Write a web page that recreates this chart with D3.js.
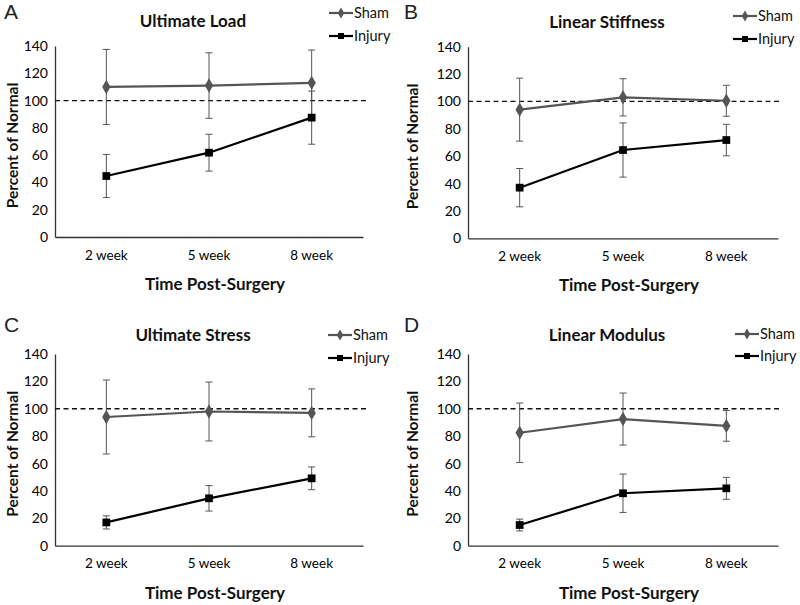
<!DOCTYPE html>
<html><head><meta charset="utf-8">
<script src="https://cdn.jsdelivr.net/npm/d3@7"></script>
<style>
html,body{margin:0;padding:0;background:#fff;}
svg{display:block;font-family:Lato,"Open Sans",sans-serif;}
</style></head>
<body><svg id="chart" width="800" height="605"></svg>
<script>
const categories = ["2 week", "5 week", "8 week"];
const yTicks = [0, 20, 40, 60, 80, 100, 120, 140];
const referenceLevel = 100;
const panelLetters = ["A", "B", "C", "D"];
const panelTitles = ["Ultimate Load", "Linear Stiffness", "Ultimate Stress", "Linear Modulus"];
const seriesNames = ["Sham", "Injury"];
const shamMean = [[110, 111, 113], [94, 103, 100.5], [94, 98, 97], [82.5, 92.5, 87.5]];
const shamErr  = [[27.5, 24, 24], [23, 13.6, 11.3], [27, 21.5, 17.5], [21.7, 19, 11.2]];
const injuryMean = [[44.7, 61.8, 87.5], [37, 64.5, 71.8], [17, 34.6, 49.2], [15.1, 38.3, 41.9]];
const injuryErr  = [[15.8, 13.5, 19.5], [14, 19.8, 11.5], [4.8, 9.3, 8.3], [4.3, 14, 8]];

const svg = d3.select("#chart");
const layout = [
  {x0: 55, x1: 363, yTop: 46, yBot: 237, ox: 0, titleY: 27, letterY: 19, legX: 329, legY: [13, 36]},
  {x0: 468, x1: 778, yTop: 46.7, yBot: 238.3, ox: 400, titleY: 28, letterY: 19, legX: 733, legY: [16, 39]},
  {x0: 55, x1: 363, yTop: 354, yBot: 545.7, ox: 0, titleY: 341, letterY: 332, legX: 328, legY: [335, 358]},
  {x0: 468, x1: 778, yTop: 354, yBot: 545.7, ox: 400, titleY: 341, letterY: 332, legX: 735, legY: [334, 356]}
];
const shamColor = "#555";
const injColor = "#000";
const errColor = "#555";

layout.forEach((L, i) => {
  const g = svg.append("g");
  const x = d3.scaleBand().domain(categories).range([L.x0, L.x1]);
  const y = d3.scaleLinear().domain([0, 140]).range([L.yBot, L.yTop]);
  const cx = c => x(c) + x.bandwidth() / 2;

  const ya = g.append("g").attr("transform", `translate(${L.x0},0)`)
    .call(d3.axisLeft(y).tickValues(yTicks).tickSize(0).tickPadding(7));
  ya.select(".domain").attr("stroke", "#333").attr("stroke-width", 1.3);
  ya.selectAll("text").attr("font-size", 14).attr("fill", "#000").attr("font-family", "Lato");
  const xa = g.append("g").attr("transform", `translate(0,${L.yBot})`)
    .call(d3.axisBottom(x).tickSize(0).tickPadding(13));
  xa.select(".domain").attr("stroke", "#333").attr("stroke-width", 1.3);
  xa.selectAll("text").attr("font-size", 13.5).attr("fill", "#000").attr("font-family", "Lato");

  g.append("line").attr("x1", L.x0).attr("x2", L.x1 + 3)
    .attr("y1", y(referenceLevel)).attr("y2", y(referenceLevel))
    .attr("stroke", "#111").attr("stroke-width", 1.3).attr("stroke-dasharray", "5,3.5");

  const series = [
    {name: seriesNames[0], mean: shamMean[i], err: shamErr[i], color: shamColor, shape: d3.symbolDiamond, size: 60},
    {name: seriesNames[1], mean: injuryMean[i], err: injuryErr[i], color: injColor, shape: d3.symbolSquare, size: 60}
  ];
  series.forEach(s => {
    categories.forEach((c, k) => {
      const xx = cx(c), hi = y(s.mean[k] + s.err[k]), lo = y(s.mean[k] - s.err[k]);
      g.append("line").attr("x1", xx).attr("x2", xx).attr("y1", hi).attr("y2", lo)
        .attr("stroke", errColor).attr("stroke-width", 1);
      [hi, lo].forEach(yy => g.append("line").attr("x1", xx - 3.5).attr("x2", xx + 3.5)
        .attr("y1", yy).attr("y2", yy).attr("stroke", errColor).attr("stroke-width", 1));
    });
  });
  series.forEach(s => {
    const line = d3.line().x((d, k) => cx(categories[k])).y(d => y(d));
    g.append("path").datum(s.mean).attr("d", line).attr("fill", "none")
      .attr("stroke", s.color).attr("stroke-width", 2.2);
    g.selectAll(null).data(s.mean).enter().append("path")
      .attr("d", d3.symbol().type(s.shape).size(s.size))
      .attr("transform", (d, k) => `translate(${cx(categories[k])},${y(d)})`)
      .attr("fill", s.color);
  });

  g.append("text").attr("x", (L.x0 + L.x1) / 2 - 16).attr("y", L.titleY)
    .attr("text-anchor", "middle").attr("font-weight", "bold").attr("font-size", 17)
    .attr("fill", "#111").text(panelTitles[i]);
  g.append("text").attr("x", L.ox + 4).attr("y", L.letterY)
    .attr("font-family", "Liberation Sans, Arial, sans-serif").attr("font-size", 21)
    .attr("fill", "#222").text(panelLetters[i]);
  g.append("text").attr("transform", `translate(${L.ox + 17.5},${(L.yTop + L.yBot) / 2 + 4}) rotate(-90)`)
    .attr("text-anchor", "middle").attr("font-weight", "bold").attr("font-size", 15.5)
    .attr("fill", "#111").text("Percent of Normal");
  g.append("text").attr("x", (L.x0 + L.x1) / 2 + 6).attr("y", L.yBot + 53)
    .attr("text-anchor", "middle").attr("font-weight", "bold").attr("font-size", 17)
    .attr("fill", "#111").text("Time Post-Surgery");

  series.forEach((s, k) => {
    const lx = L.legX, ly = L.legY[k];
    g.append("line").attr("x1", lx).attr("x2", lx + 24).attr("y1", ly).attr("y2", ly)
      .attr("stroke", s.color).attr("stroke-width", 2.2);
    g.append("path").attr("d", d3.symbol().type(s.shape).size(36))
      .attr("transform", `translate(${lx + 12},${ly})`).attr("fill", s.color);
    g.append("text").attr("x", lx + 25).attr("y", ly + 5).attr("font-size", 14.5)
      .attr("fill", "#111").text(s.name);
  });
});
</script></body></html>
